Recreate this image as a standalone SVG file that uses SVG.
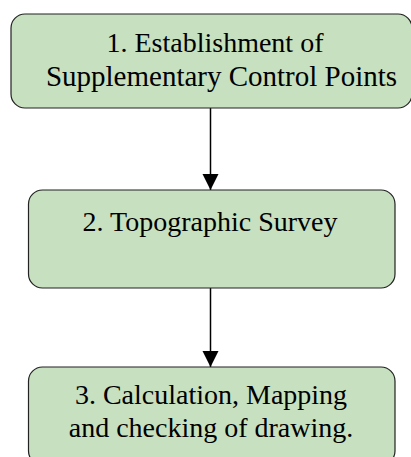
<svg xmlns="http://www.w3.org/2000/svg" width="411" height="457" viewBox="0 0 411 457">
  <style>
    .box { fill: #c6e0c0; stroke: #222; stroke-width: 1.2; }
    .label { font-family: "Liberation Serif", "Times New Roman", serif; font-size: 28px; fill: #000; text-anchor: middle; }
    .link { stroke: #000; stroke-width: 1.5; fill: none; }
  </style>
  <defs>
    <marker id="arrow" markerUnits="userSpaceOnUse" markerWidth="16" markerHeight="17" refX="16" refY="8" orient="auto">
      <path d="M0,0 L16,8 L0,16 Z" fill="#000"/>
    </marker>
  </defs>
  <rect width="411" height="457" fill="#fff"/>

  <g id="connectors">
    <line class="link" x1="210.5" y1="108" x2="210.5" y2="190" marker-end="url(#arrow)"/>
    <line class="link" x1="210.5" y1="288" x2="210.5" y2="367" marker-end="url(#arrow)"/>
  </g>

  <g id="node1">
    <rect class="box" x="11" y="14" width="401" height="94" rx="14"/>
    <text class="label" x="215" y="52">1. Establishment of</text>
    <text class="label" x="221.5" y="86" style="font-size:29px">Supplementary Control Points</text>
  </g>

  <g id="node2">
    <rect class="box" x="28.5" y="190" width="366.5" height="98" rx="14"/>
    <text class="label" x="210" y="231">2. Topographic Survey</text>
  </g>

  <g id="node3">
    <rect class="box" x="28.5" y="367" width="366.5" height="98" rx="14"/>
    <text class="label" x="211" y="404">3. Calculation, Mapping</text>
    <text class="label" x="211" y="437">and checking of drawing.</text>
  </g>
</svg>
